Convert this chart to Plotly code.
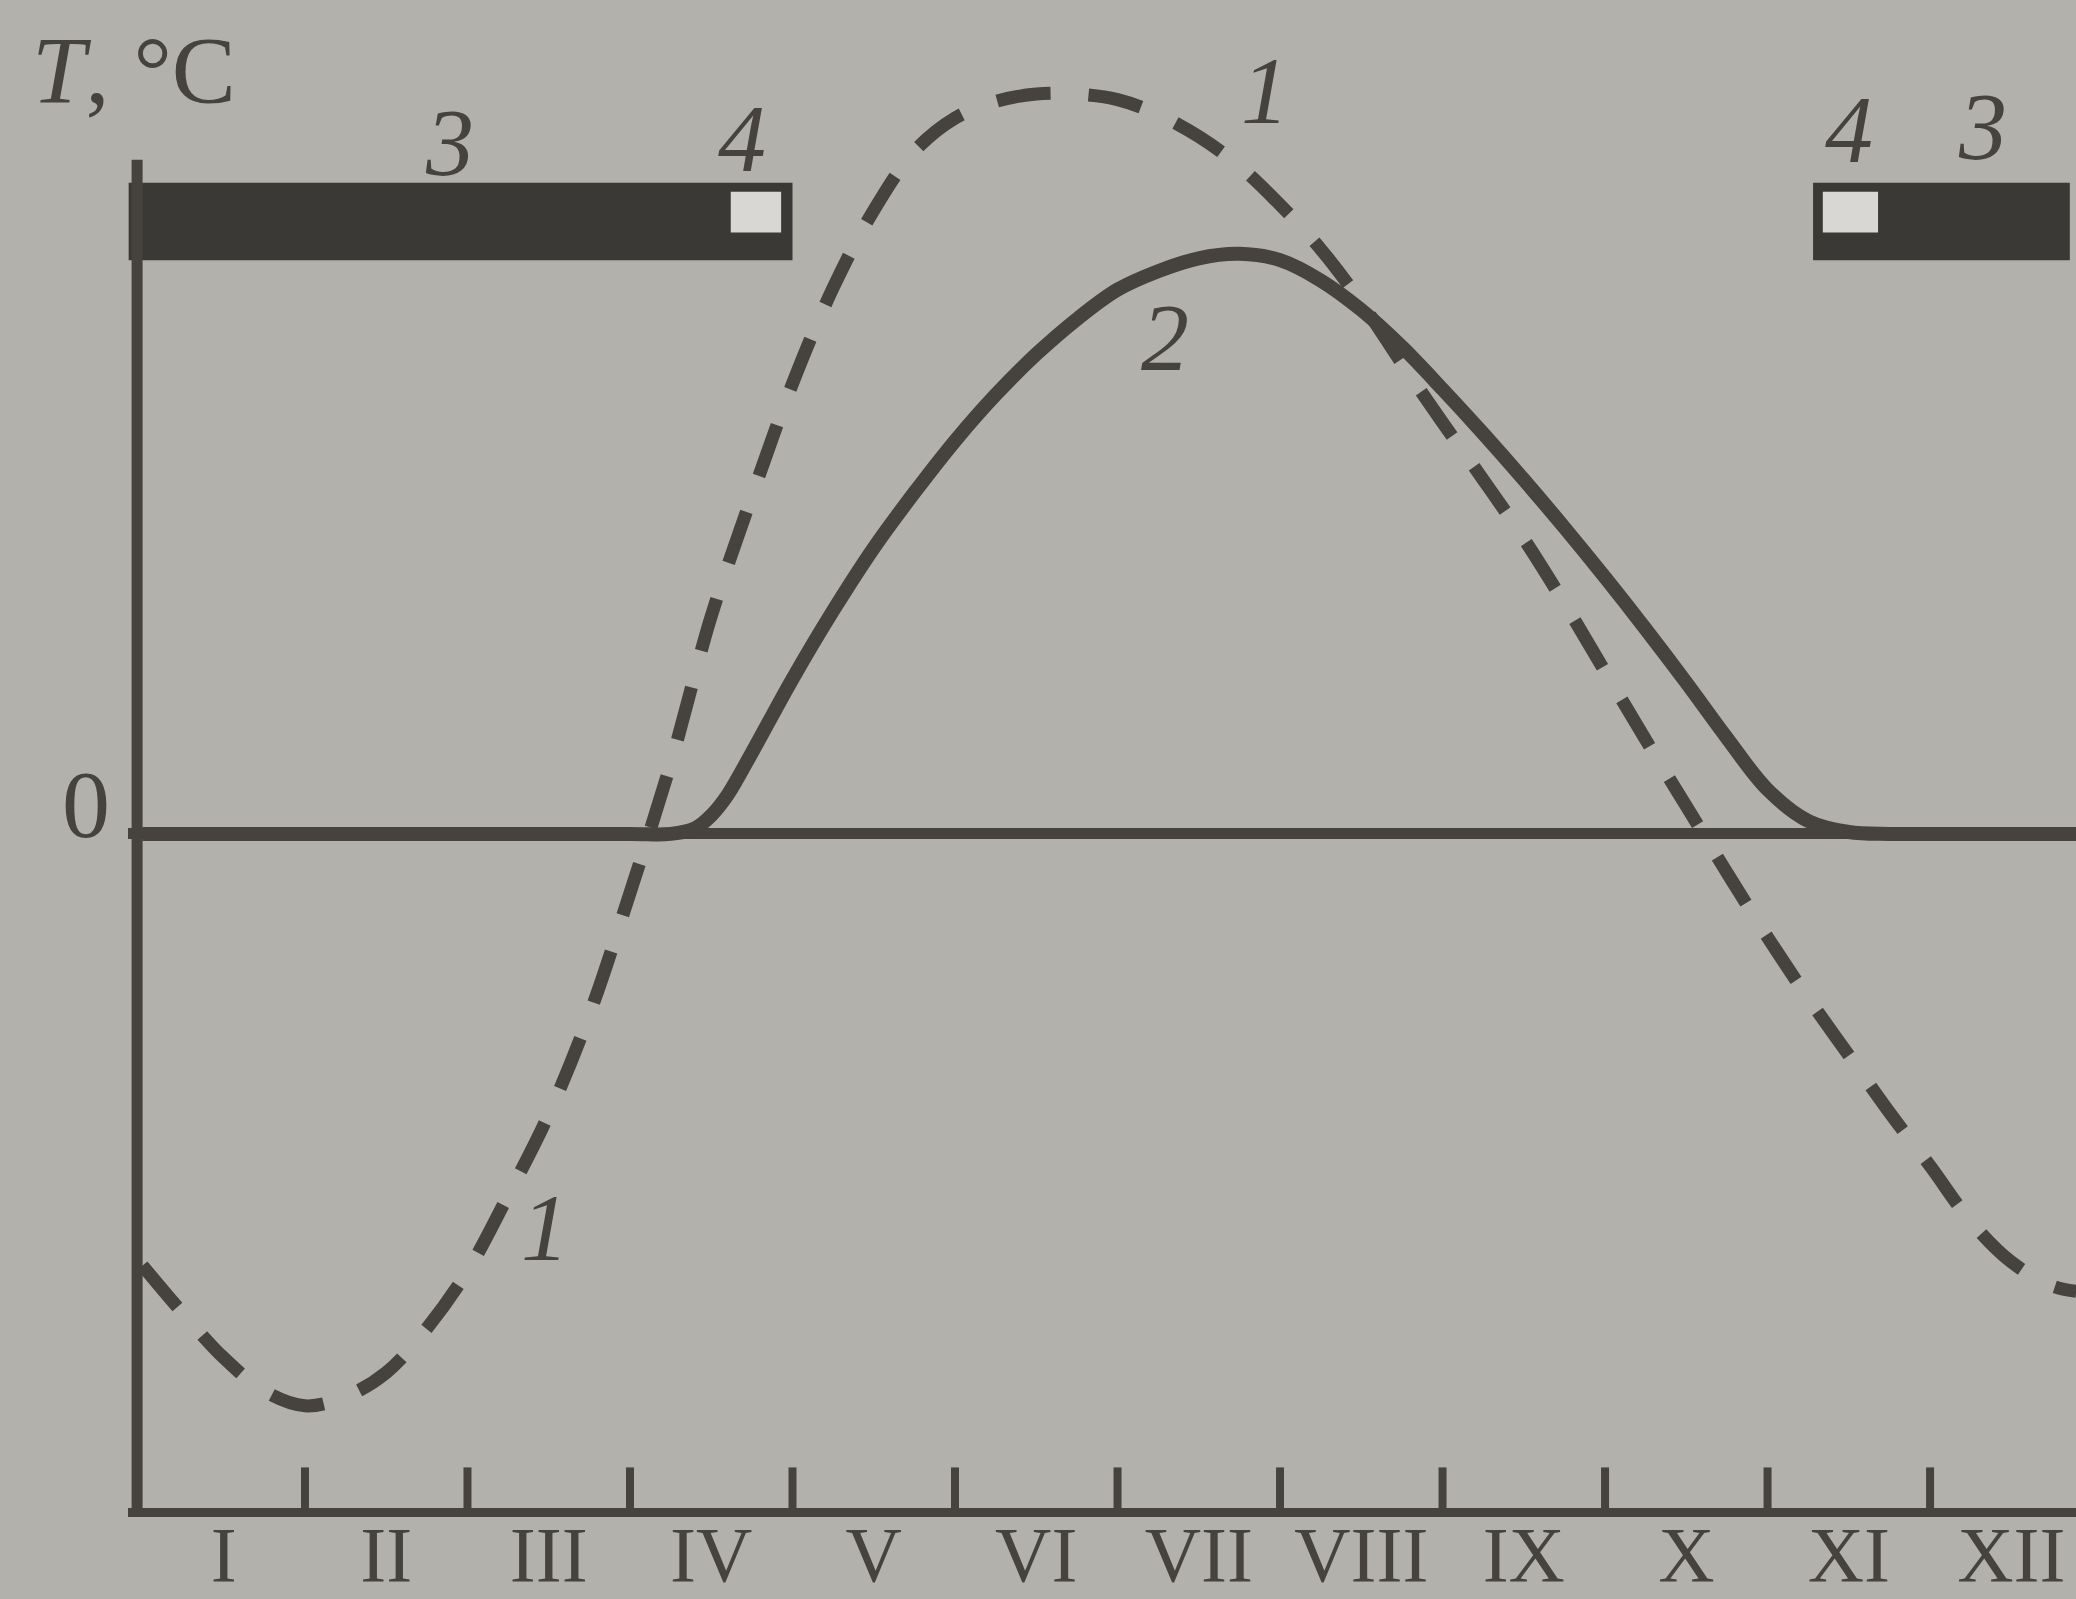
import plotly.graph_objects as go

# x is measured in months from 1 January; y is temperature, °C
month_labels = ["I", "II", "III", "IV", "V", "VI", "VII", "VIII", "IX", "X", "XI", "XII"]
month_centres = [i + 0.5 for i in range(12)]
month_bounds = list(range(1, 12))

# Curve 1 (dashed): air temperature over the year
air_month = [0.0, 0.25, 0.5, 0.75, 1.0, 1.25, 1.5, 1.75, 2.0, 2.25, 2.5, 2.75, 3.0,
             3.25, 3.5, 3.75, 4.0, 4.25, 4.5, 4.75, 5.0, 5.25, 5.5, 5.75, 6.0, 6.25,
             6.5, 6.75, 7.0, 7.25, 7.5, 7.75, 8.0, 8.25, 8.5, 8.75, 9.0, 9.25, 9.5,
             9.75, 10.0, 10.25, 10.5, 10.75, 11.0, 11.25, 11.5, 11.75, 11.9]
air_temp = [-11.7, -13.0, -14.2, -15.1, -15.5, -15.25, -14.6, -13.4, -11.85, -9.8, -7.6, -4.9, -1.6,
            1.9, 5.9, 9.15, 12.2, 14.8, 16.9, 18.5, 19.4, 19.85, 20.05, 20.05, 19.9, 19.5,
            18.9, 18.1, 17.05, 15.85, 14.4, 12.75, 11.15, 9.6, 8.0, 6.25, 4.4, 2.55, 0.75,
            -1.05, -2.8, -4.45, -6.0, -7.55, -9.0, -10.5, -11.6, -12.25, -12.4]

# Curve 2 (solid): temperature that stays at 0 °C through the cold season
soil_month = [0.0, 1.0, 2.0, 3.0, 3.25, 3.4, 3.5, 3.6, 3.75, 4.0, 4.25, 4.5, 4.75, 5.0,
              5.25, 5.5, 5.75, 6.0, 6.25, 6.5, 6.75, 7.0, 7.25, 7.5, 7.75, 8.0, 8.25,
              8.5, 8.75, 9.0, 9.25, 9.5, 9.75, 10.0, 10.25, 10.5, 10.75, 11.0, 12.0]
soil_temp = [0.0, 0.0, 0.0, 0.0, 0.0, 0.15, 0.5, 1.05, 2.2, 4.2, 6.05, 7.75, 9.25, 10.65,
             11.9, 13.0, 13.95, 14.75, 15.25, 15.6, 15.72, 15.55, 15.0, 14.2, 13.2, 12.05, 10.85,
             9.6, 8.3, 6.95, 5.55, 4.1, 2.6, 1.2, 0.35, 0.05, 0.0, 0.0, 0.0]

# Strip 3 (dark) and strip 4 (light) periods, start and end in months
strip3_start = [-0.085, 10.28]
strip3_end = [4.0, 11.86]
strip4_start = [3.62, 10.34]
strip4_end = [3.93, 10.68]

BG = "#b3b1ac"
INK = "#46433f"
DARK = "#3b3936"
LIGHT = "#d8d7d3"
SERIF = "Liberation Serif, Times New Roman, serif"

Y_BOTTOM = -18.27
Y_TOP = 22.6
AXIS_X = -0.033

fig = go.Figure()

# Seasonal strips above the plot
fig.add_trace(go.Bar(
    y=[16.6] * len(strip3_start), base=strip3_start,
    x=[e - s for s, e in zip(strip3_start, strip3_end)],
    orientation="h", width=2.1, marker=dict(color=DARK, line=dict(width=0)),
    hoverinfo="skip", showlegend=False))
fig.add_trace(go.Bar(
    y=[16.85] * len(strip4_start), base=strip4_start,
    x=[e - s for s, e in zip(strip4_start, strip4_end)],
    orientation="h", width=1.1, marker=dict(color=LIGHT, line=dict(width=0)),
    hoverinfo="skip", showlegend=False))

# Vertical temperature axis
fig.add_trace(go.Scatter(
    x=[AXIS_X, AXIS_X], y=[Y_BOTTOM, 18.27], mode="lines",
    line=dict(color=INK, width=11), hoverinfo="skip", showlegend=False))

# Month boundary ticks on the time axis
tick_x, tick_y = [], []
for b in month_bounds:
    tick_x += [b, b, None]
    tick_y += [Y_BOTTOM, Y_BOTTOM + 1.1, None]
fig.add_trace(go.Scatter(
    x=tick_x, y=tick_y, mode="lines",
    line=dict(color=INK, width=8), hoverinfo="skip", showlegend=False))

# Curve 2
fig.add_trace(go.Scatter(
    x=soil_month, y=soil_temp, mode="lines",
    line=dict(color=INK, width=14, shape="spline", smoothing=1.0),
    hoverinfo="skip", showlegend=False))

# Curve 1
fig.add_trace(go.Scatter(
    x=air_month, y=air_temp, mode="lines",
    line=dict(color=INK, width=13, dash="54px,38px", shape="spline", smoothing=1.0),
    hoverinfo="skip", showlegend=False))

annotations = [
    dict(x=-0.05, y=20.68, text="<i>T</i>, °C", xref="x"),
    dict(x=-0.0216, y=0.79, text="0", xref="paper"),
    dict(x=1.89, y=18.75, text="<i>3</i>", xref="x"),
    dict(x=3.69, y=18.85, text="<i>4</i>", xref="x"),
    dict(x=10.5, y=19.09, text="<i>4</i>", xref="x"),
    dict(x=11.32, y=19.18, text="<i>3</i>", xref="x"),
    dict(x=6.91, y=20.16, text="<i>1</i>", xref="x"),
    dict(x=6.29, y=13.46, text="<i>2</i>", xref="x"),
    dict(x=2.48, y=-10.68, text="<i>1</i>", xref="x"),
]

fig.update_layout(
    width=2076, height=1599,
    margin=dict(l=128, r=0, t=0, b=91),
    paper_bgcolor=BG, plot_bgcolor=BG,
    barmode="overlay",
    showlegend=False,
    xaxis=dict(
        range=[-0.089, 11.898], showgrid=False, zeroline=False, automargin=False,
        showline=True, linewidth=9, linecolor=INK,
        tickmode="array", tickvals=month_centres, ticktext=month_labels,
        ticks="", ticklabelstandoff=-30,
        tickfont=dict(family=SERIF, size=78, color=INK),
        fixedrange=True),
    yaxis=dict(
        range=[Y_BOTTOM, Y_TOP], showgrid=False, showticklabels=False, automargin=False,
        zeroline=True, zerolinewidth=11, zerolinecolor=INK,
        showline=False, fixedrange=True),
    annotations=[
        dict(x=a["x"], y=a["y"], xref=a["xref"], yref="y", text=a["text"],
             showarrow=False, xanchor="center", yanchor="middle",
             font=dict(family=SERIF, size=96, color=INK))
        for a in annotations
    ],
)

fig.write_html("out.html")
